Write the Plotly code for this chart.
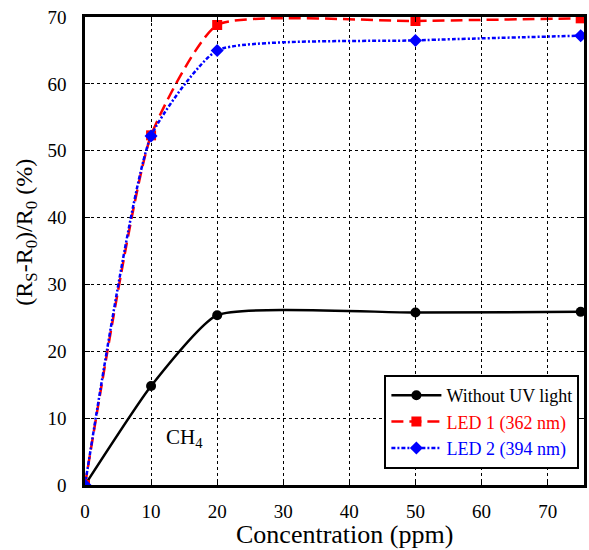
import plotly.graph_objects as go

conc = [0, 10, 20, 50, 75]
no_uv = [0, 14.8, 25.4, 25.8, 25.9]
led1 = [0, 52.3, 68.8, 69.4, 69.8]
led2 = [0, 52.2, 65.0, 66.5, 67.2]
x_ticks = [0, 10, 20, 30, 40, 50, 60, 70]
y_ticks = [0, 10, 20, 30, 40, 50, 60, 70]

SERIF = "'Liberation Serif', 'DejaVu Serif', serif"

fig = go.Figure()
fig.add_trace(go.Scatter(
    x=conc, y=no_uv, mode="lines+markers", line_shape="spline",
    name="Without UV light",
    line=dict(color="black", width=2.5, smoothing=0.5),
    marker=dict(symbol="circle", size=10, color="black"),
))
fig.add_trace(go.Scatter(
    x=conc, y=led1, mode="lines+markers", line_shape="spline",
    name="<span style='color:#ff0000'>LED 1 (362 nm)</span>",
    line=dict(color="#ff0000", width=2.5, dash="12px,6px", smoothing=0.5),
    marker=dict(symbol="square", size=10, color="#ff0000"),
))
fig.add_trace(go.Scatter(
    x=conc, y=led2, mode="lines+markers", line_shape="spline",
    name="<span style='color:#0000ff'>LED 2 (394 nm)</span>",
    line=dict(color="#0000ff", width=2.5, dash="4px,2px,2px,2px", smoothing=0.5),
    marker=dict(symbol="diamond", size=10, color="#0000ff"),
))

fig.add_annotation(x=15, y=7, text="CH<sub>4</sub>", showarrow=False,
                   font=dict(family=SERIF, size=21, color="black"))

fig.add_annotation(xref="paper", yref="paper", x=0.52, y=-0.105,
                   xanchor="center", yanchor="middle", showarrow=False,
                   text="Concentration (ppm)",
                   font=dict(family=SERIF, size=26, color="black"))
fig.add_annotation(xref="paper", yref="paper", x=-0.1175, y=0.54,
                   xanchor="center", yanchor="middle", showarrow=False,
                   textangle=-90,
                   text="(R<sub>S</sub>-R<sub>0</sub>)/R<sub>0</sub> (%)",
                   font=dict(family=SERIF, size=24, color="black"))

axis_common = dict(
    showline=True, linecolor="black", linewidth=2.5, mirror="ticks",
    ticks="inside", ticklen=5, tickcolor="black", tickwidth=1,
    showgrid=True, gridcolor="black", gridwidth=1, griddash="dot",
    zeroline=False, tickfont=dict(family=SERIF, size=19, color="black"),
)

fig.update_layout(
    width=589, height=550,
    margin=dict(l=85, r=2, t=17, b=65),
    plot_bgcolor="white", paper_bgcolor="white",
    font=dict(family=SERIF, color="black"),
    xaxis=dict(range=[0, 75.5], tickvals=x_ticks, ticklabelstandoff=7, **axis_common),
    yaxis=dict(range=[0, 70], tickvals=y_ticks, ticklabelstandoff=12, **axis_common),
    legend=dict(x=0.6, y=0.235, xanchor="left", yanchor="top",
                bgcolor="white", bordercolor="black", borderwidth=2,
                font=dict(family=SERIF, size=18, color="black"),
                tracegroupgap=4, itemwidth=50),
    showlegend=True,
)

fig.write_html("out.html")
